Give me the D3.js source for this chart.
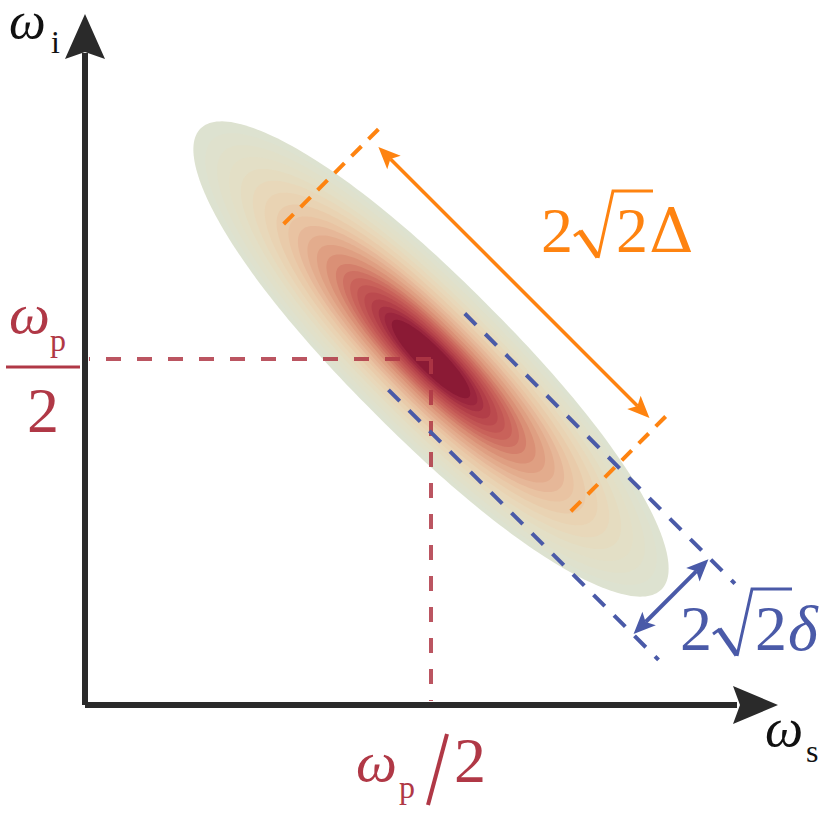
<!DOCTYPE html>
<html><head><meta charset="utf-8">
<script src="https://cdn.jsdelivr.net/npm/d3@7"></script>
<style>html,body{margin:0;padding:0;background:#fff;} svg{display:block}</style>
</head><body><svg id="c" width="828" height="814"></svg>
<script>
// ---------------- data ----------------
const axisDomain = [0, 100];
const pumpHalf = [50, 50];            // (ωp/2 , ωp/2)
const ellipseSemiAxes = [47.1, 11.3]; // semi-axes along anti-diagonal / diagonal
const longWidth = 58.7;               // 2√2Δ
const shortWidth = 15.6;              // 2√2δ
const contourLevels = [1.00,0.95,0.90,0.85,0.80,0.75,0.70,0.65,0.60,0.56,0.52,0.48,0.44,0.40,0.37,0.34,0.31,0.28,0.25,0.22,0.195,0.165];
const colorStops  = [1.00, 0.85, 0.72, 0.60, 0.50, 0.42, 0.34, 0.26, 0.20, 0.165];
const colorValues = ["#dde2d0","#e3dfc6","#e9d6b6","#e9c3a2","#e2a688","#d78870","#c9625a","#b6424a","#9e2840","#8b1a35"];
const axisNames = ["ω", "s", "i"];
const centerLabel = ["ω", "p", "2"];
const longLabel = ["2", "2", "Δ"];
const shortLabel = ["2", "2", "δ"];

// ---------------- setup ----------------
const svg = d3.select("#c");
const x = d3.scaleLinear().domain(axisDomain).range([85, 777]);
const y = d3.scaleLinear().domain(axisDomain).range([705, 13]);
const S2 = Math.SQRT2;
// rotated frame: u along anti-diagonal (down-right), v along diagonal (up-right)
function P(u, v) {
  const dx = (u + v) / S2, dy = (v - u) / S2;
  return [x(pumpHalf[0] + dx), y(pumpHalf[1] + dy)];
}
const color = d3.scaleLinear().domain(colorStops).range(colorValues).interpolate(d3.interpolateRgb);

// ---------------- ellipse (joint spectral amplitude) ----------------
const nU = 2.2;
function shape(s) {
  const a = ellipseSemiAxes[0] * s, b = ellipseSemiAxes[1] * s;
  const pts = [];
  for (let k = 0; k < 240; k++) {
    const t = k / 240 * 2 * Math.PI;
    const c = Math.cos(t), sn = Math.sin(t);
    const u = a * Math.sign(c) * Math.pow(Math.abs(c), 2 / nU);
    const v = b * sn;
    pts.push(P(u, v));
  }
  return d3.line().curve(d3.curveLinearClosed)(pts);
}
svg.append("g").selectAll("path").data(contourLevels).join("path")
  .attr("d", d => shape(d))
  .attr("fill", d => color(d));

// ---------------- red guide lines ----------------
const red = "#b03846";
const gRed = svg.append("g").attr("stroke", red).attr("stroke-width", 4)
  .attr("stroke-dasharray", "15,16").attr("opacity", 0.85);
gRed.append("line").attr("x1", x(pumpHalf[0])).attr("y1", y(pumpHalf[1]))
  .attr("x2", x(0) + 4).attr("y2", y(pumpHalf[1]));
gRed.append("line").attr("x1", x(pumpHalf[0])).attr("y1", y(pumpHalf[1]))
  .attr("x2", x(pumpHalf[0])).attr("y2", y(0) - 4);

// ---------------- blue lines (δ) ----------------
const blue = "#4a5aa8";
const gBlue = svg.append("g").attr("stroke", blue).attr("stroke-width", 4)
  .attr("stroke-dasharray", "16,13");
[shortWidth / 2 + 0.3, -shortWidth / 2 + 0.3].forEach(v => {
  const a = P(-1.2, v), b = P(54.0, v);
  gBlue.append("line").attr("x1", a[0]).attr("y1", a[1]).attr("x2", b[0]).attr("y2", b[1]);
});

// ---------------- orange lines (Δ) ----------------
const orange = "#fe8310";
const gOr = svg.append("g").attr("stroke", orange).attr("stroke-width", 4)
  .attr("stroke-dasharray", "14,10");
[-longWidth / 2 + 0.5, longWidth / 2 + 0.5].forEach(u => {
  const a = P(u, 18.1), b = P(u, -2.2);
  gOr.append("line").attr("x1", a[0]).attr("y1", a[1]).attr("x2", b[0]).attr("y2", b[1]);
});

// ---------------- arrows ----------------
function head(tip, from, len, hw, notch, fill) {
  const dx = tip[0] - from[0], dy = tip[1] - from[1];
  const L = Math.hypot(dx, dy), ux = dx / L, uy = dy / L, px = -uy, py = ux;
  const bx = tip[0] - ux * len, by = tip[1] - uy * len;
  const nx = tip[0] - ux * (len - notch), ny = tip[1] - uy * (len - notch);
  const d = `M${tip[0]},${tip[1]} L${bx + px * hw},${by + py * hw} L${nx},${ny} L${bx - px * hw},${by - py * hw} Z`;
  svg.append("path").attr("d", d).attr("fill", fill);
  return [nx, ny];
}
function dblArrow(a, b, col, w) {
  const na = head(a, b, 22, 9.5, 5, col);
  const nb = head(b, a, 22, 9.5, 5, col);
  svg.append("line").attr("x1", na[0]).attr("y1", na[1]).attr("x2", nb[0]).attr("y2", nb[1])
    .attr("stroke", col).attr("stroke-width", w);
}
dblArrow(P(-longWidth / 2 + 2.3, 16.3), P(longWidth / 2 - 1.0, 16.3), orange, 3.5);
dblArrow(P(48.8, shortWidth / 2 + 0.1), P(48.8, -shortWidth / 2 + 0.4), blue, 4);

// ---------------- axes ----------------
const axCol = "#2a2a2a";
const gx = svg.append("g").attr("transform", `translate(0,${y(0)})`)
  .call(d3.axisBottom(x).tickValues([]).tickSizeOuter(0));
const gy = svg.append("g").attr("transform", `translate(${x(0)},0)`)
  .call(d3.axisLeft(y).tickValues([]).tickSizeOuter(0));
[gx, gy].forEach(g => g.select(".domain").attr("stroke", axCol).attr("stroke-width", 6));
gx.select(".domain").attr("d", `M${x(0)},0H${x(100) - 40}`);
gy.select(".domain").attr("d", `M0,${y(0)}V${y(100) + 40}`);
// arrow heads
svg.append("path").attr("fill", axCol)
  .attr("d", `M${x(0)},${y(100) + 1} L${x(0) + 20},${y(100) + 46} L${x(0)},${y(100) + 39} L${x(0) - 20},${y(100) + 46} Z`);
svg.append("path").attr("fill", axCol)
  .attr("d", `M${x(100) + 1},${y(0)} L${x(100) - 44},${y(0) - 19} L${x(100) - 37},${y(0)} L${x(100) - 44},${y(0) + 19} Z`);

// ---------------- text ----------------
const serif = "'Liberation Serif', 'DejaVu Serif', serif";
function txt(t, px, py, size, col, opts = {}) {
  return svg.append("text").attr("x", px).attr("y", py).text(t)
    .attr("font-family", opts.family || serif).attr("font-size", size)
    .attr("font-style", opts.italic ? "italic" : "normal")
    .attr("fill", col).attr("text-anchor", opts.anchor || "start");
}
// ω_i
txt(axisNames[0], 9, 38, 52, "#111", {italic: true});
txt(axisNames[2], 51, 53, 32, "#111");
// ω_s
txt(axisNames[0], 765, 746, 54, "#111", {italic: true});
txt(axisNames[1], 806, 762, 32, "#111");
// ω_p / 2 (left, fraction)
txt(centerLabel[0], 9, 333, 58, red, {italic: true});
txt(centerLabel[1], 50, 351, 32, red);
svg.append("line").attr("x1", 6).attr("x2", 80).attr("y1", y(pumpHalf[1]) + 8).attr("y2", y(pumpHalf[1]) + 8)
  .attr("stroke", red).attr("stroke-width", 3);
txt(centerLabel[2], 43, 432, 64, red, {anchor: "middle"});
// ω_p / 2 (bottom)
const cx = x(pumpHalf[0]);
txt(centerLabel[0], cx - 75, 781, 58, red, {italic: true});
txt(centerLabel[1], cx - 32, 798, 32, red);
svg.append("line").attr("x1", cx + 16).attr("y1", 734).attr("x2", cx - 3).attr("y2", 805)
  .attr("stroke", red).attr("stroke-width", 4);
txt(centerLabel[2], cx + 23, 782, 64, red);

// radical labels
function radLabel(lab, ox, oy, col, fam3, size3, it3) {
  txt(lab[0], ox - 2, oy, 64, col);
  svg.append("path").attr("d", `M${ox + 31},${oy - 16} L${ox + 38},${oy - 21}`)
    .attr("stroke", col).attr("stroke-width", 3).attr("fill", "none");
  svg.append("path").attr("d", `M${ox + 37},${oy - 21} L${ox + 55},${oy + 5}`)
    .attr("stroke", col).attr("stroke-width", 5.5).attr("fill", "none");
  svg.append("path").attr("d", `M${ox + 55},${oy + 6} L${ox + 70},${oy - 61} L${ox + 110},${oy - 61}`)
    .attr("stroke", col).attr("stroke-width", 3).attr("fill", "none").attr("stroke-linejoin", "miter");
  txt(lab[1], ox + 73, oy, 64, col);
  txt(lab[2], ox + 106, oy, size3, col, {family: fam3, italic: it3});
}
radLabel(longLabel, 543, 252, orange, "'DejaVu Serif', serif", 62, false);
radLabel(shortLabel, 682, 650, blue, serif, 64, true);
</script></body></html>
